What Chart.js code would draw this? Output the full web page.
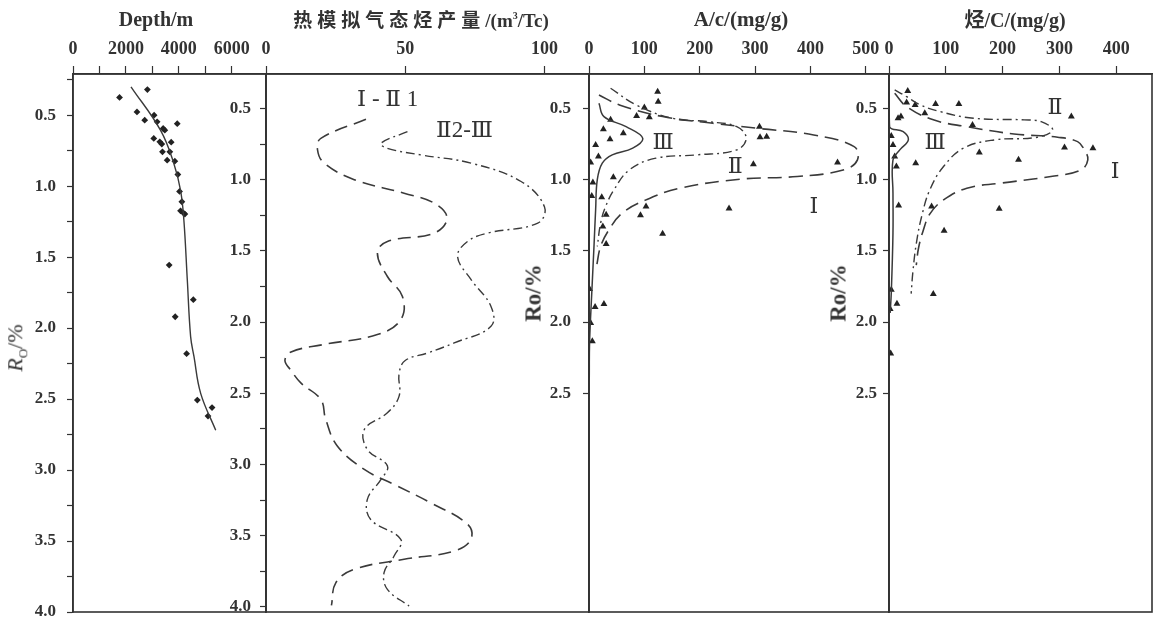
<!DOCTYPE html>
<html><head><meta charset="utf-8">
<script src="https://cdn.jsdelivr.net/npm/chart.js"></script>
<style>
html,body{margin:0;padding:0;background:#fff;overflow:hidden;}
#wrap{position:relative;width:1156px;height:619px;overflow:hidden;background:#fff;}
canvas{position:absolute;left:0;top:0;}
.t{position:absolute;font-family:"Liberation Serif","Times New Roman",serif;font-weight:bold;color:#333;white-space:nowrap;transform:translate(-50%,-50%);font-size:20px;line-height:1;}
.cjk{font-family:"Noto Sans CJK SC",sans-serif;font-weight:bold;letter-spacing:5px;font-size:19px;}
.r{transform:translate(-50%,-50%) rotate(-90deg);}
</style></head>
<body><div id="wrap">
<canvas id="c1" width="1156" height="650"></canvas>
<canvas id="c2" width="1156" height="650"></canvas>
<canvas id="c3" width="1156" height="650"></canvas>
<canvas id="c4" width="1156" height="650"></canvas>
<div class="t" style="left:156px;top:19px;">Depth/m</div>
<div class="t" style="left:421px;top:19px;font-size:19px;"><span class="cjk">热模拟气态烃产量</span>/(m<sup style="font-size:10px">3</sup>/Tc)</div>
<div class="t" style="left:741px;top:19px;font-size:21px;">A/c/(mg/g)</div>
<div class="t" style="left:1015px;top:19px;font-size:20px;"><span class="cjk" style="letter-spacing:0;font-size:20px;">烃</span>/C/(mg/g)</div>
<div class="t r" style="left:17px;top:348px;font-weight:normal;font-size:22px;"><i>R</i><sub style="font-size:13px">O</sub>/%</div>
<div class="t r" style="left:533px;top:293px;font-size:23px;">Ro/%</div>
<div class="t r" style="left:838px;top:293px;font-size:23px;">Ro/%</div>
</div>
<script>
// ---------- Panel 1: depth vs Ro ----------
const p1Depth = [1760,2814,2420,2712,3068,3182,3410,3473,3943,3055,3283,3359,3714,3384,3662,3562,3852,3966,4030,4118,4068,4183,4232,3638,4551,3866,4297,4703,5106,5259];
const p1Ro    = [0.375,0.32,0.477,0.535,0.50,0.547,0.594,0.606,0.56,0.664,0.688,0.704,0.69,0.758,0.758,0.817,0.824,0.918,1.037,1.11,1.174,1.19,1.197,1.556,1.80,1.92,2.18,2.507,2.62,2.56];
const p1FitDepth = [2194,3308,3814,4068,4194,4323,4449,4575,4829,5399];
const p1FitRo    = [0.30,0.606,0.84,1.03,1.24,1.66,2.06,2.20,2.46,2.72];
const p1XTicks  = [0,1000,2000,3000,4000,5000,6000];
const p1XLabels = ['0','','2000','','4000','','6000'];
const p1YTicks  = [0.25,0.5,0.75,1.0,1.25,1.5,1.75,2.0,2.25,2.5,2.75,3.0,3.25,3.5,3.75,4.0];
const p1YLabels = ['','0.5','','1.0','','1.5','','2.0','','2.5','','3.0','','3.5','','4.0'];

// ---------- Panel 2: thermal simulation gas yield ----------
const p2I_IIx = [35.9,19.7,18.5,20.9,31.7,49.6,60.4,65.0,60.4,43.6,40.0,43.6,49.0,48.4,40.0,20.0,9.0,6.8,9.0,12.5,19.7,21.4,25.6,35.3,46.0,59.2,72.4,73.6,67.6,49.6,31.7,25.1,23.5];
const p2I_IIy = [0.576,0.71,0.79,0.884,1.0,1.095,1.165,1.27,1.375,1.434,1.515,1.68,1.82,1.983,2.088,2.16,2.21,2.27,2.34,2.427,2.544,2.68,2.87,3.035,3.14,3.27,3.42,3.526,3.608,3.666,3.736,3.83,3.99];
const p2II_IIIx = [50.8,41.3,43.6,55.5,73.6,91.6,100,97.6,79.6,72.4,68.8,73.6,80.8,80.8,67.6,58.0,50.0,47.8,47.8,43.6,35.3,36.4,43.6,41.3,36.4,37.6,48.4,46.0,42.4,43.6,51.4];
const p2II_IIIy = [0.663,0.744,0.78,0.826,0.884,1.013,1.19,1.305,1.375,1.434,1.54,1.70,1.89,2.03,2.146,2.217,2.27,2.36,2.52,2.637,2.755,2.895,3.01,3.105,3.245,3.386,3.526,3.643,3.76,3.877,3.994];
const p2XTicks  = [0,50,100];
const p2XLabels = ['0','50','100'];
const p2YTicks  = [0.5,0.75,1.0,1.25,1.5,1.75,2.0,2.25,2.5,2.75,3.0,3.25,3.5,3.75,4.0];
const p2YLabels = ['0.5','','1.0','','1.5','','2.0','','2.5','','3.0','','3.5','','4.0'];

// ---------- Panel 3: A/c ----------
const p3TriX = [124,125,100,86,109,39,26,62,38,12,308,309,321,297,449,17,3,44,7,5,23,103,93,253,133,31,25,31,1,27,11,3,6];
const p3TriY = [0.382,0.452,0.494,0.553,0.562,0.58,0.646,0.674,0.716,0.756,0.628,0.702,0.698,0.891,0.88,0.838,0.88,0.983,1.02,1.114,1.123,1.189,1.25,1.203,1.38,1.247,1.329,1.452,1.768,1.873,1.894,2.006,2.135];
const p3Ix = [18,55,133,224,303,406,479,485,461,376,273,164,103,60,36,21,14];
const p3Iy = [0.405,0.475,0.557,0.604,0.639,0.686,0.768,0.861,0.931,0.978,0.997,1.06,1.142,1.235,1.352,1.469,1.6];
const p3IIx = [39,85,151,215,267,284,267,194,121,73,45,30,21,15];
const p3IIy = [0.358,0.475,0.569,0.593,0.628,0.709,0.791,0.826,0.849,0.931,1.072,1.189,1.305,1.469];
const p3IIIx = [18,27,67,97,79,42,24,15,12,9,5,1,0.5];
const p3IIIy = [0.464,0.557,0.628,0.709,0.779,0.826,0.884,1.0,1.21,1.469,1.796,2.147,2.39];
const p3XTicks  = [0,100,200,300,400,500];
const p3XLabels = ['0','100','200','300','400','500'];

// ---------- Panel 4: hydrocarbon/C ----------
const p4TriX = [33,31,46,82,123,63,16,21,147,321,4,7,10,159,309,359,228,47,13,17,75,194,97,78,4,14,2,3];
const p4TriY = [0.377,0.459,0.475,0.468,0.468,0.534,0.569,0.557,0.616,0.557,0.693,0.756,0.838,0.81,0.775,0.779,0.861,0.884,0.908,1.182,1.189,1.205,1.359,1.803,1.773,1.871,1.908,2.22];
const p4Ix = [10,31,78,137,220,297,332,344,350,338,285,196,137,96,72,60,52,48];
const p4Iy = [0.393,0.487,0.58,0.628,0.679,0.702,0.733,0.791,0.861,0.931,0.978,1.025,1.06,1.142,1.24,1.36,1.48,1.6];
const p4IIx = [10,31,55,90,149,238,268,288,261,185,131,96,72,58,48,42,39];
const p4IIy = [0.37,0.417,0.475,0.522,0.569,0.58,0.593,0.651,0.702,0.721,0.779,0.908,1.07,1.25,1.45,1.65,1.8];
const p4IIIx = [0,1,25,34,19,7,7,7,4,2];
const p4IIIy = [0.39,0.628,0.663,0.721,0.791,0.861,1.095,1.375,1.796,1.936];
const p4XTicks  = [0,100,200,300,400];
const p4XLabels = ['0','100','200','300','400'];

const p34YTicks  = [0.5,1.0,1.5,2.0,2.5];
const p34YLabels = ['0.5','1.0','1.5','2.0','2.5'];

// ---------- rendering ----------
const W = 1156, H = 650;
const INK = '#333';
const SERIF = '"Liberation Serif","Times New Roman",serif';
const AXW = 40, AXH = 40;
const pts = (xs, ys) => xs.map((x, i) => ({x: x, y: ys[i]}));

const boxPlugin = {
  id: 'box',
  afterDraw(chart) {
    const a = chart.chartArea, ctx = chart.ctx;
    ctx.save(); ctx.strokeStyle = INK; ctx.lineWidth = 1.6;
    ctx.strokeRect(a.left, a.top, a.right - a.left, a.bottom - a.top);
    ctx.restore();
  }
};
const notePlugin = {
  id: 'notes',
  afterDatasetsDraw(chart, args, opts) {
    const ctx = chart.ctx, xs = chart.scales.x, ys = chart.scales.y;
    ctx.save();
    ctx.fillStyle = INK;
    ctx.font = (opts.size || 21) + 'px "Liberation Serif","DejaVu Serif","Noto Sans CJK SC",serif';
    ctx.textAlign = 'center'; ctx.textBaseline = 'middle';
    (opts.items || []).forEach(n => ctx.fillText(n.text, xs.getPixelForValue(n.x), ys.getPixelForValue(n.y)));
    ctx.restore();
  }
};

function line(data, dash, w) {
  return {data: data, showLine: true, pointRadius: 0, borderColor: '#3a3a3a', borderWidth: w || 1.5,
          borderDash: dash, tension: 0.4, fill: false};
}
function marks(data, style, r) {
  return {data: data, showLine: false, pointStyle: style, pointRadius: r, backgroundColor: '#222',
          borderColor: '#222', borderWidth: 0};
}

function panel(id, c) {
  return new Chart(document.getElementById(id), {
    type: 'scatter',
    data: {datasets: c.datasets},
    options: {
      responsive: false, animation: false, devicePixelRatio: 1,
      layout: {padding: {left: c.left - AXW, top: c.top - AXH, right: W - c.right, bottom: H - c.bottom}},
      plugins: {legend: {display: false}, tooltip: {enabled: false}, notes: {items: c.notes, size: c.noteSize}},
      scales: {
        x: {
          type: 'linear', position: 'top', min: c.xMin, max: c.xMax,
          afterFit(s) { s.height = AXH; },
          afterBuildTicks(s) { s.ticks = c.xTicks.map(v => ({value: v})); },
          grid: {drawOnChartArea: false, drawTicks: true, tickLength: 8, tickColor: INK, tickWidth: 1.2},
          border: {display: true, color: INK, width: 1.6},
          ticks: {padding: 6, color: INK, maxRotation: 0, autoSkip: false,
                  font: {family: SERIF, size: 18, weight: 'bold'},
                  callback: (v, i) => c.xLabels[i]}
        },
        y: {
          type: 'linear', position: 'left', reverse: true, min: c.yMin, max: c.yMax,
          afterFit(s) { s.width = AXW; },
          afterBuildTicks(s) { s.ticks = c.yTicks.map(v => ({value: v})); },
          grid: {drawOnChartArea: false, drawTicks: true, tickLength: 6, tickColor: INK, tickWidth: 1.2},
          border: {display: true, color: INK, width: 1.6},
          ticks: {padding: c.yPad, color: INK, autoSkip: false,
                  font: {family: SERIF, size: 17, weight: 'bold'},
                  callback: (v, i) => c.yLabels[i]}
        }
      }
    },
    plugins: [boxPlugin, notePlugin]
  });
}

panel('c1', {
  left: 73, right: 266, top: 74, bottom: 612, xMin: 0, xMax: 7300, yMin: 0.21, yMax: 4.0, yPad: 11,
  xTicks: p1XTicks, xLabels: p1XLabels, yTicks: p1YTicks, yLabels: p1YLabels, notes: [],
  datasets: [line(pts(p1FitDepth, p1FitRo), [], 1.4), marks(pts(p1Depth, p1Ro), 'rectRot', 3.4)]
});
panel('c2', {
  left: 266, right: 589, top: 74, bottom: 612, xMin: 0, xMax: 116, yMin: 0.258, yMax: 4.036, yPad: 9,
  xTicks: p2XTicks, xLabels: p2XLabels, yTicks: p2YTicks, yLabels: p2YLabels, noteSize: 23,
  notes: [{x: 43.7, y: 0.44, text: 'Ⅰ - Ⅱ 1'}, {x: 71.3, y: 0.658, text: 'Ⅱ2-Ⅲ'}],
  datasets: [line(pts(p2I_IIx, p2I_IIy), [13, 7], 1.6), line(pts(p2II_IIIx, p2II_IIIy), [9, 4, 2, 4], 1.4)]
});
panel('c3', {
  left: 589, right: 889, top: 74, bottom: 612, xMin: 0, xMax: 542, yMin: 0.258, yMax: 4.036, yPad: 12,
  xTicks: p3XTicks, xLabels: p3XLabels, yTicks: p34YTicks, yLabels: p34YLabels, noteSize: 22,
  notes: [{x: 134, y: 0.742, text: 'Ⅲ'}, {x: 264, y: 0.91, text: 'Ⅱ'}, {x: 406, y: 1.19, text: 'Ⅰ'}],
  datasets: [line(pts(p3Ix, p3Iy), [14, 7], 1.6), line(pts(p3IIx, p3IIy), [9, 4, 2, 4], 1.4),
             line(pts(p3IIIx, p3IIIy), [], 1.5), marks(pts(p3TriX, p3TriY), 'triangle', 4)]
});
panel('c4', {
  left: 889, right: 1152, top: 74, bottom: 612, xMin: 0, xMax: 463, yMin: 0.258, yMax: 4.036, yPad: 6,
  xTicks: p4XTicks, xLabels: p4XLabels, yTicks: p34YTicks, yLabels: p34YLabels, noteSize: 22,
  notes: [{x: 81, y: 0.742, text: 'Ⅲ'}, {x: 292, y: 0.497, text: 'Ⅱ'}, {x: 398, y: 0.946, text: 'Ⅰ'}],
  datasets: [line(pts(p4Ix, p4Iy), [14, 7], 1.6), line(pts(p4IIx, p4IIy), [9, 4, 2, 4], 1.4),
             line(pts(p4IIIx, p4IIIy), [], 1.5), marks(pts(p4TriX, p4TriY), 'triangle', 4)]
});
</script>
</body></html>
